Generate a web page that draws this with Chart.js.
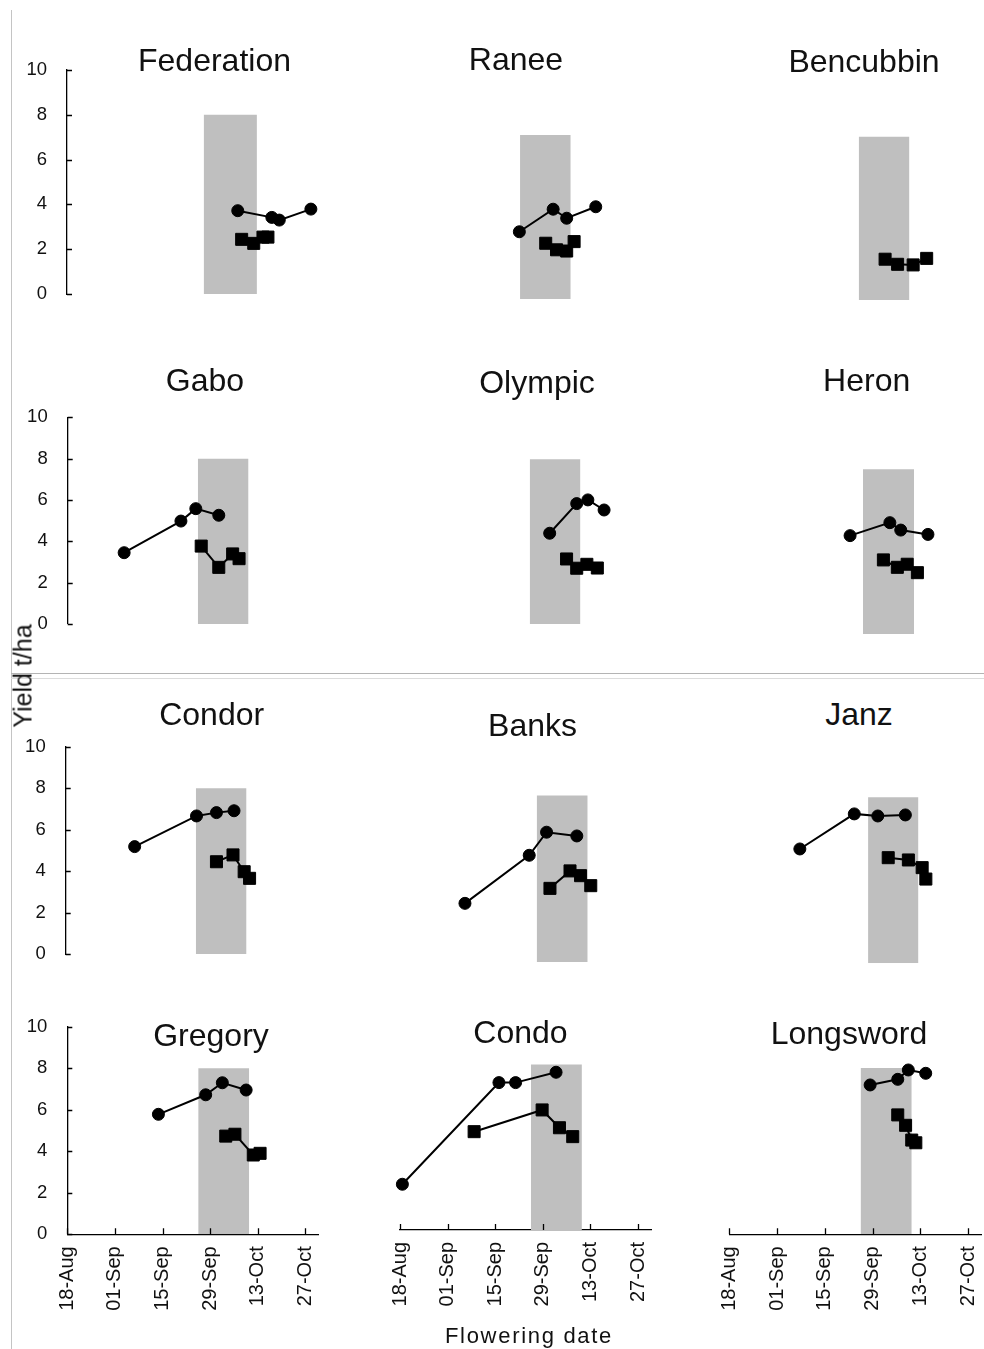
<!DOCTYPE html>
<html><head><meta charset="utf-8">
<script src="https://cdn.jsdelivr.net/npm/chart.js@4.4.1/dist/chart.umd.min.js"></script>
<style>
body{margin:0;background:#fff;width:984px;height:1349px;position:relative;overflow:hidden;
  font-family:"Liberation Sans",Arial,sans-serif;color:#111}
canvas{position:absolute}
.ttl{position:absolute;font-size:32px;line-height:32px;white-space:nowrap;transform:translateX(-50%)}
.lbl{position:absolute;white-space:nowrap;line-height:1}
.rule{position:absolute}
</style></head><body>
<div class="rule" style="left:11px;top:10px;width:1px;height:1339px;background:#c4c4c4"></div>
<div class="rule" style="left:11px;top:673px;width:973px;height:1px;background:#b4b4b4"></div>
<div class="rule" style="left:11px;top:678px;width:973px;height:1px;background:#dcdcdc"></div>
<script>
/* ===== 資料 ===== */
const varieties=['Federation','Ranee','Bencubbin','Gabo','Olympic','Heron',
                 'Condor','Banks','Janz','Gregory','Condo','Longsword'];
const dateTicks=[0,14,28,42,56,70];                 // days after 18-Aug
const dateLabels=['18-Aug','01-Sep','15-Sep','29-Sep','13-Oct','27-Oct'];
const yieldTicks=[0,2,4,6,8,10];
const windowDays=[38.5,53.5], windowYield=[0,8];

// ● series
const dotDays=[[48.1,57.7,59.8,68.7],[38.3,48.3,52.3,60.9],[],
  [16.7,33.5,37.9,44.7],[44.4,52.4,55.7,60.5],[34.7,46.4,49.6,57.6],
  [20.4,38.7,44.6,49.8],[17.4,36.3,41.4,50.3],[18.2,34.4,41.4,49.6],
  [26.8,40.7,45.6,52.6],[0.7,29.1,34.0,45.9],[41.3,49.4,52.5,57.6]];
const dotYield=[[3.72,3.42,3.30,3.79],[3.28,4.38,3.94,4.50],[],
  [3.45,4.98,5.58,5.26],[4.41,5.85,6.03,5.54],[4.78,5.41,5.05,4.84],
  [5.18,6.66,6.82,6.91],[2.82,5.13,6.24,6.06],[5.51,7.20,7.10,7.15],
  [5.78,6.72,7.30,6.95],[2.21,7.12,7.12,7.62],[7.18,7.45,7.90,7.74]];
// ■ series
const sqDays=[[49.2,52.6,55.2,56.6],[46.1,49.3,52.3,54.5],[46.3,50.0,54.6,58.6],
  [39.5,44.7,48.8,50.7],[49.4,52.4,55.4,58.5],[44.5,48.6,51.5,54.5],
  [44.6,49.5,52.8,54.4],[42.4,48.3,51.4,54.4],[44.5,50.5,54.6,55.7],
  [46.6,49.3,54.7,56.7],[21.8,41.8,46.9,50.8],[49.4,51.7,53.5,54.7]];
const sqYield=[[2.44,2.26,2.54,2.54],[2.72,2.40,2.34,2.80],[2.00,1.75,1.72,2.04],
  [3.77,2.74,3.39,3.16],[3.16,2.71,2.90,2.72],[3.60,3.24,3.39,2.98],
  [4.45,4.78,3.97,3.65],[3.54,4.38,4.15,3.67],[5.09,4.98,4.61,4.06],
  [4.73,4.82,3.82,3.90],[4.75,5.80,4.94,4.51],[5.74,5.24,4.53,4.40]];

/* ---------- 版面 ---------- */
// [px of day 0, px per day, px of yield 0, px per t/ha]
const panelBox=[[67,3.55,294,22.4],[389.9,3.38,299,20.5],[728.6,3.38,300,20.4],
  [67.7,3.38,624,20.67],[399.6,3.38,624,20.58],[732.1,3.4,634,20.58],
  [65.7,3.38,954,20.73],[405.8,3.4,962,20.8],[738.7,3.36,963.3,20.75],
  [67.3,3.4,1234.3,20.76],[400,3.4,1230,20.7],[729.3,3.41,1234.3,20.8]];
const titlePos=[[214.5,70.9],[516,69.6],[864,72.2],[205,391.2],[537,392.9],[866.7,391.2],
  [211.7,724.6],[532.5,736.2],[859,725],[211,1046],[520.5,1043],[849,1044.5]];
const XMAX=74, P=24, YW=50, XH=90;

Chart.defaults.font.family='"Liberation Sans", Arial, sans-serif';
Chart.defaults.color='#111';

/* plugin：內側刻度 */
const insideTicks={id:'insideTicks',afterDraw(c){
  const {ctx,scales:{x,y}}=c; ctx.save(); ctx.strokeStyle='#000'; ctx.lineWidth=1.3; ctx.beginPath();
  if(x.options.display) x.ticks.forEach(t=>{const px=Math.round(x.getPixelForValue(t.value))+.5;
    ctx.moveTo(px,x.top); ctx.lineTo(px,x.top-6);});
  if(y.options.display) y.ticks.forEach(t=>{const py=Math.round(y.getPixelForValue(t.value))+.5;
    ctx.moveTo(y.right,py); ctx.lineTo(y.right+5,py);});
  ctx.stroke(); ctx.restore();}};

const pts=(xs,ys)=>xs.map((v,j)=>({x:v,y:ys[j]}));
const mkSeries=(d,style,r)=>({data:d,borderColor:'#000',borderWidth:2,backgroundColor:'#000',
  pointStyle:style,pointRadius:r,pointHoverRadius:r,pointBackgroundColor:'#000',
  pointBorderColor:'#000',pointBorderWidth:1,clip:false,tension:0});

varieties.forEach((name,i)=>{
  const [x0,ppd,y0,ppu]=panelBox[i];
  const hasY=i%3===0, hasX=i>=9;
  const cw=XMAX*ppd, ch=10*ppu, yw=hasY?YW:0, xh=hasX?XH:0;
  const L=Math.round(x0-P-yw), T=Math.round(y0-ch-P);
  const padL=x0-yw-L, padT=(y0-ch)-T;
  const W=Math.ceil(padL+yw+cw+P), H=Math.ceil(padT+ch+xh+P);
  const cv=document.createElement('canvas');
  cv.width=W; cv.height=H; cv.style.left=L+'px'; cv.style.top=T+'px';
  document.body.appendChild(cv);

  new Chart(cv,{
    type:'line',
    data:{datasets:[
      mkSeries(pts(dotDays[i],dotYield[i]),'circle',6),
      mkSeries(pts(sqDays[i],sqYield[i]),'rect',8.5),
      {data:[{x:windowDays[0],y:windowYield[1]},{x:windowDays[1],y:windowYield[1]}],
       borderColor:'rgba(0,0,0,0)',borderWidth:0,pointRadius:0,pointHoverRadius:0,
       backgroundColor:'#bfbfbf',fill:{value:windowYield[0]},clip:false}
    ]},
    options:{
      responsive:false,animation:false,events:[],
      layout:{padding:{left:padL,top:padT,right:W-(padL+yw+cw),bottom:H-(padT+ch+xh)}},
      plugins:{legend:{display:false},tooltip:{enabled:false}},
      scales:{
        x:{type:'linear',min:0,max:XMAX,display:hasX,
           afterBuildTicks:s=>{s.ticks=dateTicks.map(v=>({value:v}));},
           afterFit:s=>{if(hasX) s.height=XH; s.paddingLeft=0; s.paddingRight=0;},
           grid:{drawOnChartArea:false,drawTicks:false},
           border:{display:true,color:'#000',width:1.3},
           ticks:{autoSkip:false,minRotation:90,maxRotation:90,padding:12,color:'#111',
                  font:{size:20},callback:v=>dateLabels[dateTicks.indexOf(v)]}},
        y:{type:'linear',min:0,max:10,display:hasY,
           afterBuildTicks:s=>{s.ticks=yieldTicks.map(v=>({value:v}));},
           afterFit:s=>{if(hasY) s.width=YW; s.paddingTop=0; s.paddingBottom=0;},
           grid:{drawOnChartArea:false,drawTicks:false},
           border:{display:true,color:'#000',width:1.3},
           ticks:{autoSkip:false,padding:20,color:'#111',font:{size:18.5}}}
      }
    },
    plugins:[insideTicks]
  });

  const t=document.createElement('div'); t.className='ttl'; t.textContent=name;
  t.style.left=titlePos[i][0]+'px'; t.style.top=(titlePos[i][1]-27.1)+'px';
  document.body.appendChild(t);
});

/* ---------- 軸標題 ---------- */
const yl=document.createElement('div'); yl.className='lbl'; yl.textContent='Yield t/ha';
Object.assign(yl.style,{fontSize:'25px',left:'23px',top:'676px',transform:'translate(-50%,-50%) rotate(-90deg)'});
document.body.appendChild(yl);
const xl=document.createElement('div'); xl.className='lbl'; xl.textContent='Flowering date';
Object.assign(xl.style,{fontSize:'22px',letterSpacing:'1.7px',left:'529px',top:(1343.5-18.6)+'px',transform:'translateX(-50%)'});
document.body.appendChild(xl);
</script>
</body></html>
